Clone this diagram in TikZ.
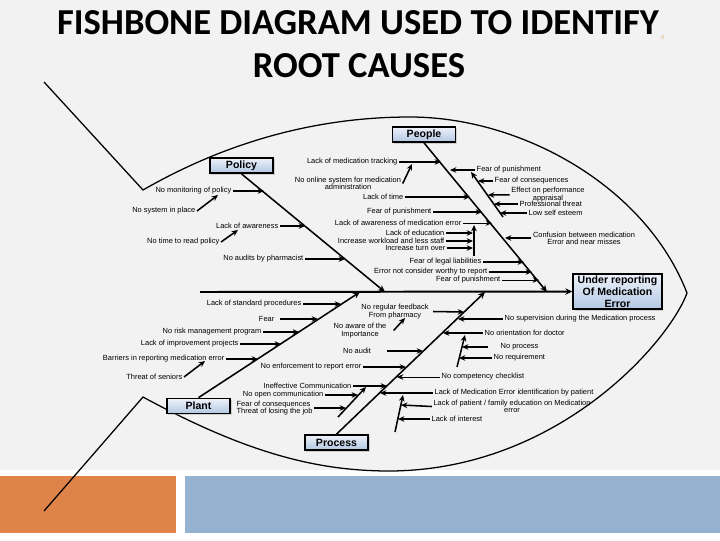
\documentclass[tikz,border=0pt]{standalone}
\usepackage{fontspec}
\usepackage{tikz}
\usetikzlibrary{arrows.meta, positioning, calc, shadows}
\newfontfamily\diafont{Liberation Sans}
\newfontfamily\headfont{Carlito}
\definecolor{slidebg}{RGB}{242,242,242}
\definecolor{bandorange}{RGB}{224,131,72}
\definecolor{bandblue}{RGB}{149,179,208}
\definecolor{boxtop}{RGB}{238,242,250}
\definecolor{boxbottom}{RGB}{178,199,226}
\definecolor{numcol}{RGB}{228,186,146}
\newcommand{\lblfont}{\diafont\fontsize{5.3}{5.2}\selectfont}

\begin{document}
\begin{tikzpicture}[
    x=0.025cm, y=-0.025cm,
    title/.style={font=\headfont\bfseries\fontsize{26}{30}\selectfont, inner sep=0pt},
    cat/.style={draw, line width=1.1pt, top color=boxtop, bottom color=boxbottom, minimum width=1.58cm, minimum height=0.38cm, inner sep=0pt, font=\diafont\bfseries\fontsize{7.5}{8}\selectfont, drop shadow={shadow xshift=1pt, shadow yshift=-1pt, opacity=0.3}},
    effect/.style={cat, minimum width=2.22cm, minimum height=0.88cm, align=center, font=\diafont\bfseries\fontsize{7.5}{8.6}\selectfont},
    lbl/.style={font=\lblfont, inner sep=1pt},
    arrow/.style={->, >={Stealth[length=4.5pt, width=4pt]}, line width=1.1pt},
    faint/.style={->, >={Stealth[length=4.5pt, width=4pt]}, line width=0.5pt},
    bone/.style={->, >={Stealth[length=5pt, width=4.5pt]}, line width=1.1pt},
    outline/.style={line width=0.9pt}
]
\useasboundingbox (0,0) rectangle (720,540);

\fill[slidebg] (0,0) rectangle (720,470);
\fill[bandorange] (0,476) rectangle (176,533);
\fill[bandblue] (185,476) rectangle (720,533);

\node[title] (title1) at (358,23) {FISHBONE DIAGRAM USED TO IDENTIFY};
\node[title] (title2) at (359,66) {ROOT CAUSES};
\node[font=\headfont\fontsize{5}{5}\selectfont, text=numcol, inner sep=0pt] (slideno) at (663,37) {6};

\draw[outline] (44,82) -- (143,190) .. controls (230,140) and (320,117) .. (410,117)
    .. controls (520,117) and (645,185) .. (687,293)
    .. controls (670,340) and (560,470) .. (390,471)
    .. controls (320,471) and (250,455) .. (143,397) -- (44,511);

\coordinate (tailpt) at (200,292);
\coordinate (sp1) at (385,292);
\coordinate (sp2) at (547,292);
\coordinate (sp3) at (360,292);
\coordinate (sp4) at (485,292);

\node[effect] (effect) at (617.5,291.5) {Under reporting\\Of Medication\\Error};
\node[cat] (policy) at (241.5,165.5) {Policy};
\node[cat] (people) at (424,134.5) {People};
\node[cat] (plant) at (198.5,406) {Plant};
\node[cat] (process) at (336.5,442.5) {Process};

\draw[bone, line width=1.4pt] (tailpt) -- (effect.west);
\draw[bone] (policy.south) -- (sp1);
\draw[bone] (people.south) -- (sp2);
\draw[bone] (plant.north) -- (sp3);
\draw[bone] (process.north) -- (sp4);

\node[lbl, anchor=east] (pol1) at (233,191) {No monitoring of policy};
\node[lbl, anchor=east] (pol1a) at (197,211) {No system in place};
\node[lbl, anchor=east] (pol2) at (280,226) {Lack of awareness};
\node[lbl, anchor=east] (pol2a) at (221,242) {No time to read policy};
\node[lbl, anchor=east] (pol3) at (305,259) {No audits by pharmacist};
\coordinate (pb1) at (264,191);
\coordinate (pb1a) at (218,195);
\coordinate (pb2) at (305,226);
\coordinate (pb2a) at (238,230);
\coordinate (pb3) at (345,259);
\draw[arrow] (pol1) -- (pb1);
\draw[arrow] (pol1a.east) -- (pb1a);
\draw[arrow] (pol2) -- (pb2);
\draw[arrow] (pol2a.east) -- (pb2a);
\draw[arrow] (pol3) -- (pb3);

\node[lbl, anchor=east] (peo1) at (399,162) {Lack of medication tracking};
\node[lbl, align=center] (peo1a) at (348,183.5) {No online system for medication\\administration};
\node[lbl, anchor=east] (peo2) at (405,197) {Lack of time};
\node[lbl, anchor=east] (peo3) at (433,212) {Fear of punishment};
\node[lbl, anchor=east] (peo4) at (463,223) {Lack of awareness of medication error};
\node[lbl, anchor=east] (peo4a) at (446,233) {Lack of education};
\node[lbl, anchor=east] (peo4b) at (446,241) {Increase workload and less staff};
\node[lbl, anchor=east] (peo4c) at (447,248) {Increase turn over};
\node[lbl, anchor=east] (peo5) at (483,262) {Fear of legal liabilities};
\node[lbl, anchor=east] (peo6) at (489,272) {Error not consider worthy to report};
\node[lbl, anchor=east] (peo7) at (502,280) {Fear of punishment};
\coordinate (eb1) at (441,162);
\coordinate (eb1a) at (412,164);
\coordinate (eb2) at (470,197);
\coordinate (eb3) at (482,212);
\coordinate (eb4) at (492,223);
\coordinate (ev4b) at (474,256);
\coordinate (ev4t) at (474,225);
\coordinate (eb4a) at (473,233);
\coordinate (eb4b) at (473,241);
\coordinate (eb4c) at (473,248);
\coordinate (eb5) at (524,262);
\coordinate (eb6) at (532,272);
\coordinate (eb7) at (539,280);
\draw[arrow] (peo1) -- (eb1);
\draw[arrow] (peo1a.east) -- (eb1a);
\draw[arrow] (peo2) -- (eb2);
\draw[arrow] (peo3) -- (eb3);
\draw[faint] (peo4) -- (eb4);
\draw[arrow] (ev4b) -- (ev4t);
\draw[arrow] (peo4a) -- (eb4a);
\draw[arrow] (peo4b) -- (eb4b);
\draw[arrow] (peo4c) -- (eb4c);
\draw[arrow] (peo5) -- (eb5);
\draw[arrow] (peo6) -- (eb6);
\draw[faint] (peo7) -- (eb7);

\node[lbl, anchor=west] (peo8) at (475,170) {Fear of punishment};
\node[lbl, anchor=west] (peo8a) at (493,181) {Fear of consequences};
\node[lbl, align=center] (peo8b) at (548,194.5) {Effect on performance\\appraisal};
\node[lbl, anchor=west] (peo8c) at (518,204) {Professional threat};
\node[lbl, anchor=west] (peo8d) at (527,213) {Low self esteem};
\node[lbl, align=center] (peo9) at (584,238) {Confusion between medication\\Error and near misses};
\coordinate (eb8) at (450,170);
\coordinate (es8b) at (503,217);
\coordinate (es8t) at (471,172);
\coordinate (eb8a) at (478,181);
\coordinate (eb8b) at (488,195);
\coordinate (eb8c) at (494,204);
\coordinate (eb8d) at (500,213);
\coordinate (eb9) at (505,238);
\draw[arrow] (peo8) -- (eb8);
\draw[arrow] (es8b) -- (es8t);
\draw[arrow] (peo8a) -- (eb8a);
\draw[arrow] (peo8b) -- (eb8b);
\draw[arrow] (peo8c) -- (eb8c);
\draw[arrow] (peo8d) -- (eb8d);
\draw[arrow] (peo9) -- (eb9);

\node[lbl, anchor=east] (pla1) at (303,304) {Lack of standard procedures};
\node[lbl, anchor=east] (pla2) at (276,319) {Fear};
\node[lbl, anchor=east] (pla3) at (263,332) {No risk management program};
\node[lbl, anchor=east] (pla4) at (240,344) {Lack of improvement projects};
\node[lbl, anchor=east] (pla5) at (226,359) {Barriers in reporting medication error};
\node[lbl, anchor=east] (pla5a) at (184,377) {Threat of seniors};
\coordinate (tb1) at (341,304);
\coordinate (tb2) at (318,319);
\coordinate (tb3) at (299,332);
\coordinate (tb4) at (281,344);
\coordinate (tb5) at (258,359);
\coordinate (tb5a) at (205,361);
\draw[arrow] (pla1) -- (tb1);
\draw[arrow] ([xshift=3pt]pla2.east) -- (tb2);
\draw[arrow] (pla3) -- (tb3);
\draw[arrow] (pla4) -- (tb4);
\draw[arrow] (pla5) -- (tb5);
\draw[arrow] (pla5a.east) -- (tb5a);

\node[lbl, align=center] (pro1) at (395,311.5) {No regular feedback\\From pharmacy};
\node[lbl, align=center] (pro1a) at (360,330.5) {No aware of the\\Importance};
\node[lbl] (pro2) at (357,351) {No audit};
\node[lbl, anchor=east] (pro3) at (363,367) {No enforcement to report error};
\node[lbl, anchor=east] (pro4) at (353,386) {Ineffective Communication};
\node[lbl, anchor=east] (pro4a) at (325,395) {No open communication};
\node[lbl, anchor=west, align=left] (pro4b) at (235,408) {Fear of consequences\\Threat of losing the job};
\coordinate (qb1) at (464,312);
\coordinate (qb1a) at (405,318);
\coordinate (qb2) at (423,351);
\coordinate (qb3) at (406,367);
\coordinate (qb4) at (387,386);
\coordinate (qs4b) at (338,417);
\coordinate (qs4t) at (366,387);
\coordinate (qb4a) at (358,395);
\coordinate (qb4b) at (346,408);
\draw[arrow] ([xshift=2pt]pro1.east) -- (qb1);
\draw[arrow] ([xshift=4pt]pro1a.east) -- (qb1a);
\draw[arrow] ([xshift=10pt]pro2.east) -- (qb2);
\draw[arrow] (pro3) -- (qb3);
\draw[arrow] (pro4) -- (qb4);
\draw[arrow] (qs4b) -- (qs4t);
\draw[arrow] (pro4a) -- (qb4a);
\draw[arrow] (pro4b) -- (qb4b);

\node[lbl, anchor=west] (pro5) at (503,319) {No supervision during the Medication process};
\node[lbl, anchor=west] (pro6) at (483,333) {No orientation for doctor};
\node[lbl, anchor=west] (pro6a) at (499,347) {No process};
\node[lbl, anchor=west] (pro6b) at (492,358) {No requirement};
\node[lbl, anchor=west] (pro7) at (440,377) {No competency checklist};
\node[lbl, anchor=west] (pro8) at (433,393) {Lack of Medication Error identification by patient};
\node[lbl, align=center] (pro8a) at (512,406.5) {Lack of patient / family education on Medication\\error};
\node[lbl, anchor=west] (pro8b) at (430,419) {Lack of interest};
\coordinate (qb5) at (458,319);
\coordinate (qb6) at (443,333);
\coordinate (qs6b) at (457,367);
\coordinate (qs6t) at (465,335);
\coordinate (qb6a) at (462,347);
\coordinate (qb6b) at (459,358);
\coordinate (qb7) at (397,377);
\coordinate (qb8) at (380,393);
\coordinate (qs8b) at (395,432);
\coordinate (qs8t) at (403,395);
\coordinate (qb8a) at (401,405);
\coordinate (qb8b) at (398,419);
\draw[arrow] (pro5) -- (qb5);
\draw[arrow] (pro6) -- (qb6);
\draw[arrow] (qs6b) -- (qs6t);
\draw[arrow] ([xshift=-8pt]pro6a.west) -- (qb6a);
\draw[arrow] (pro6b) -- (qb6b);
\draw[faint] (pro7) -- (qb7);
\draw[arrow] (pro8) -- (qb8);
\draw[arrow] (qs8b) -- (qs8t);
\draw[arrow] (pro8a.west) -- (qb8a);
\draw[arrow] (pro8b) -- (qb8b);

\end{tikzpicture}
\end{document}
